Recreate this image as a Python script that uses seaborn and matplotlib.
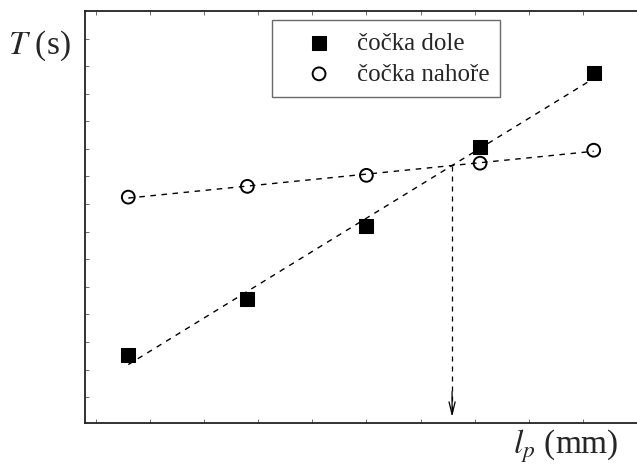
import numpy as np
import pandas as pd
import matplotlib
matplotlib.use('Agg')
import matplotlib.pyplot as plt
import seaborn as sns

# data (arbitrary units, no tick labels shown)
l_p = [0.6, 2.8, 5.0, 7.1, 9.2]
T_dole = [1.52, 3.55, 6.20, 9.06, 11.74]
T_nahore = [7.25, 7.64, 8.04, 8.48, 8.95]
series_names = ['čočka dole', 'čočka nahoře']

sns.set_style('ticks')
plt.rcParams['font.family'] = ['Liberation Serif', 'DejaVu Serif']
plt.rcParams['mathtext.fontset'] = 'stix'

df = pd.DataFrame({
    'l_p': l_p * 2,
    'T': T_dole + T_nahore,
    'serie': [series_names[0]] * len(l_p) + [series_names[1]] * len(l_p),
})

fig = plt.figure(figsize=(6.37, 4.77), dpi=100)
ax = fig.add_axes([0.1334, 0.111, 0.8666, 0.864])

# linear fits for both series
p1 = np.polyfit(l_p, T_dole, 1)
p2 = np.polyfit(l_p, T_nahore, 1)
xs = np.array([l_p[0], l_p[-1]])
fit = pd.DataFrame({'x': np.concatenate([xs, xs]),
                    'y': np.concatenate([np.polyval(p1, xs), np.polyval(p2, xs)]),
                    'serie': [series_names[0]] * 2 + [series_names[1]] * 2})
for name in series_names:
    sub = fit[fit['serie'] == name]
    sns.lineplot(data=sub, x='x', y='y', ax=ax, color='black', lw=1.0,
                 linestyle=(0, (4, 4)), legend=False)

# measured points
sns.scatterplot(data=df[df['serie'] == series_names[0]], x='l_p', y='T', ax=ax,
                marker='s', s=90, color='black', edgecolor='black',
                label=series_names[0], zorder=3)
sns.scatterplot(data=df[df['serie'] == series_names[1]], x='l_p', y='T', ax=ax,
                marker='o', s=85, facecolors='none', edgecolor='black',
                linewidth=1.4, label=series_names[1], zorder=3)

# intersection and arrow down
xi = (p2[1] - p1[1]) / (p1[0] - p2[0])
yi = np.polyval(p1, xi)
ax.plot([xi, xi], [yi, -0.7], color='black', lw=0.9, linestyle=(0, (4, 4)))
ax.annotate('', xy=(xi, -0.72), xytext=(xi, 0.2),
            arrowprops=dict(arrowstyle='->,head_length=0.9,head_width=0.22',
                            color='black', lw=0.9, shrinkA=0, shrinkB=0))

ax.set_xlim(-0.2, 10.0)
ax.set_ylim(-0.94, 14.0)
ax.set_xticks(np.arange(0, 10))
ax.set_yticks(np.arange(0, 14))
ax.set_xticklabels([])
ax.set_yticklabels([])
ax.tick_params(direction='in', length=3, width=0.6, color='#555555',
               top=True, right=False)
ax.set_xlabel('')
ax.set_ylabel('')
for side in ['left', 'bottom', 'top']:
    ax.spines[side].set_linewidth(1.3)
    ax.spines[side].set_color('#222222')
ax.spines['right'].set_visible(False)

leg = ax.legend(loc='upper left', bbox_to_anchor=(0.338, 0.977), fontsize=18,
                frameon=True, fancybox=False, edgecolor='#444444',
                handletextpad=0.05, borderpad=0.45, labelspacing=0.35,
                handlelength=2.9, borderaxespad=0)
leg.get_frame().set_linewidth(1.0)

fig.text(0.012, 0.905, '$T$ (s)', fontsize=24, ha='left', va='center')
fig.text(0.805, 0.065, '$l_p$ (mm)', fontsize=24, ha='left', va='center')

fig.savefig('out.png', dpi=100)
